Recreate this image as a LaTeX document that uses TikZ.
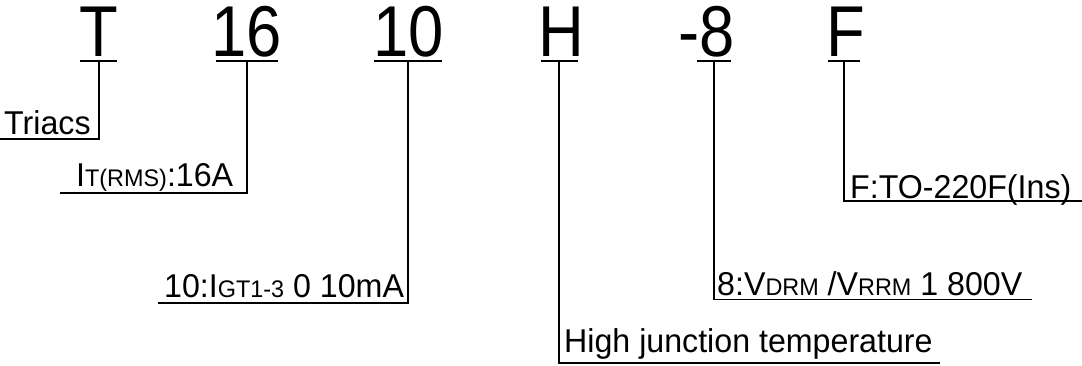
\documentclass[tikz,border=0pt]{standalone}
\usepackage{fontspec}
\setmainfont[FakeStretch=0.975]{Liberation Sans}
\newfontfamily\bigfont[FakeStretch=0.88]{Liberation Sans}
\newcommand{\sm}[1]{{\fontsize{24}{24}\selectfont #1}}
\begin{document}
\begin{tikzpicture}[x=1pt,y=1pt,
    big/.style={inner sep=0pt,font=\bigfont\fontsize{72}{72}\selectfont},
    lbl/.style={inner sep=0pt,anchor=base west,font=\fontsize{33}{33}\selectfont},
    lead/.style={line width=1.5pt}]
  \useasboundingbox (0,0) rectangle (1082,365);
  \node[big,anchor=base] (T) at (99,308) {T};
  \node[big,anchor=base] (n16) at (247,308) {16};
  \node[big,anchor=base] (n10) at (409,308) {10};
  \node[big,anchor=base] (H) at (561,308) {H};
  \node[big,anchor=base east] (n8) at (735,308) {-8};
  \node[big,anchor=base] (F) at (846,308) {F};
  \node[lbl] (triacs) at (4,231) {Triacs};
  \node[lbl] (irms) at (76,179) {I\sm{T(RMS)}:16A};
  \node[lbl] (igt) at (164,68) {10:I\sm{GT1-3} 0 10mA};
  \node[lbl] (tj) at (564,13) {High junction temperature};
  \node[lbl] (vdrm) at (717,69.5) {8:V\sm{DRM} /V\sm{RRM} 1 800V};
  \node[lbl] (pkg) at (850,167) {F:TO-220F(Ins)};
  \coordinate (T-l) at (80,304);   \coordinate (T-r) at (117,304);
  \coordinate (T-m) at (99,304);   \coordinate (T-e) at (0,226);
  \coordinate (n16-l) at (216,304); \coordinate (n16-r) at (278,304);
  \coordinate (n16-m) at (247,304); \coordinate (n16-e) at (60,172);
  \coordinate (n10-l) at (374,304); \coordinate (n10-r) at (442,304);
  \coordinate (n10-m) at (408,304); \coordinate (n10-e) at (158,62);
  \coordinate (H-l) at (541,304);   \coordinate (H-r) at (578,304);
  \coordinate (H-m) at (559,304);   \coordinate (H-e) at (940,2);
  \coordinate (n8-l) at (697,304);  \coordinate (n8-r) at (731,304);
  \coordinate (n8-m) at (714,304);  \coordinate (n8-e) at (1032,65.5);
  \coordinate (F-l) at (828,304);   \coordinate (F-r) at (860,304);
  \coordinate (F-m) at (844,304);   \coordinate (F-e) at (1082,164);
  \draw[lead] (T-l) -- (T-r);     \draw[lead] (T-m) |- (T-e);
  \draw[lead] (n16-l) -- (n16-r); \draw[lead] (n16-m) |- (n16-e);
  \draw[lead] (n10-l) -- (n10-r); \draw[lead] (n10-m) |- (n10-e);
  \draw[lead] (H-l) -- (H-r);     \draw[lead] (H-m) |- (H-e);
  \draw[lead] (n8-l) -- (n8-r);   \draw[lead] (n8-m) |- (n8-e);
  \draw[lead] (F-l) -- (F-r);     \draw[lead] (F-m) |- (F-e);
\end{tikzpicture}
\end{document}
